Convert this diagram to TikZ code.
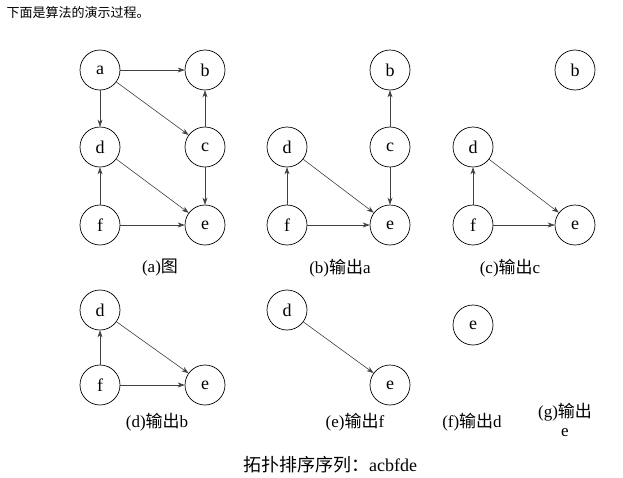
\documentclass[tikz,border=0pt]{standalone}
\usepackage{fontspec}
\setmainfont{Liberation Serif}
\newfontfamily\cjk{Noto Sans CJK SC}
\usetikzlibrary{arrows.meta}
\begin{document}
\begin{tikzpicture}[x=1pt,y=-1pt,
  vtx/.style={draw,circle,minimum size=40pt,inner sep=0pt,font=\fontsize{18}{18}\selectfont,line width=0.7pt},
  edge/.style={-{Stealth[length=7pt,width=5pt]},line width=0.6pt,draw=black!75},
  lab/.style={font=\fontsize{17}{19}\selectfont}]
\useasboundingbox (0,0) rectangle (623,477);
\node[anchor=west,font=\cjk\fontsize{13}{13}\selectfont] (top) at (3,13) {下面是算法的演示过程。};
% (a)
\node[vtx] (aa) at (100,70) {a};
\node[vtx] (ab) at (205,70) {b};
\node[vtx] (ad) at (100,147) {d};
\node[vtx] (ac) at (205,147) {c};
\node[vtx] (af) at (100,225) {f};
\node[vtx] (ae) at (205,225) {e};
\draw[edge] (aa)--(ab); \draw[edge] (aa)--(ad); \draw[edge] (aa)--(ac);
\draw[edge] (ac)--(ab); \draw[edge] (ac)--(ae); \draw[edge] (ad)--(ae);
\draw[edge] (af)--(ad); \draw[edge] (af)--(ae);
\node[lab] (la) at (160,268) {(a){\cjk 图}};
% (b)
\node[vtx] (bb) at (390,70) {b};
\node[vtx] (bd) at (287,147) {d};
\node[vtx] (bc) at (390,147) {c};
\node[vtx] (bf) at (287,225) {f};
\node[vtx] (be) at (390,225) {e};
\draw[edge] (bc)--(bb); \draw[edge] (bc)--(be); \draw[edge] (bd)--(be);
\draw[edge] (bf)--(bd); \draw[edge] (bf)--(be);
\node[lab] (lb) at (340,268) {(b){\cjk 输出}a};
% (c)
\node[vtx] (cb) at (575,70) {b};
\node[vtx] (cd) at (473,147) {d};
\node[vtx] (cf) at (473,225) {f};
\node[vtx] (ce) at (575,225) {e};
\draw[edge] (cd)--(ce); \draw[edge] (cf)--(cd); \draw[edge] (cf)--(ce);
\node[lab] (lc) at (510,268) {(c){\cjk 输出}c};
% (d)
\node[vtx] (dd) at (100,310) {d};
\node[vtx] (df) at (100,385) {f};
\node[vtx] (de) at (205,385) {e};
\draw[edge] (df)--(dd); \draw[edge] (dd)--(de); \draw[edge] (df)--(de);
\node[lab] (ld) at (157,422) {(d){\cjk 输出}b};
% (e)
\node[vtx] (ed) at (287,310) {d};
\node[vtx] (ee) at (390,385) {e};
\draw[edge] (ed)--(ee);
\node[lab] (le) at (355,422) {(e){\cjk 输出}f};
% (f)
\node[vtx] (fe) at (473,325) {e};
\node[lab] (lf) at (472,422) {(f){\cjk 输出}d};
% (g)
\node[lab,align=center] (lg) at (565,420) {(g){\cjk 输出}\\e};
\node[font=\fontsize{18}{18}\selectfont] (seq) at (330,465) {{\cjk 拓扑排序序列：}acbfde};
\end{tikzpicture}
\end{document}
